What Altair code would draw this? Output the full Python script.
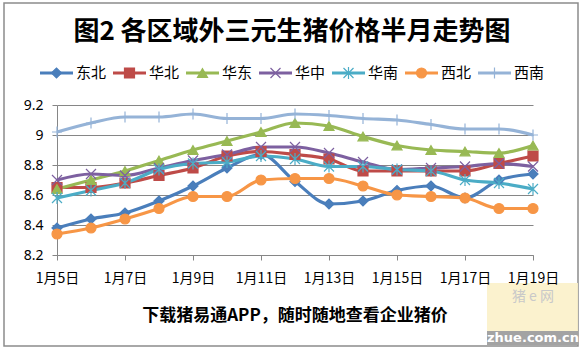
import altair as alt
import pandas as pd

dates = ["1月5日", "1月6日", "1月7日", "1月8日", "1月9日", "1月10日", "1月11日", "1月12日",
         "1月13日", "1月14日", "1月15日", "1月16日", "1月17日", "1月18日", "1月19日"]
label_dates = dates[::2]
regions = ["东北", "华北", "华东", "华中", "华南", "西北", "西南"]
colors = ["#4A7EBB", "#BE4B48", "#98B954", "#7D60A0", "#4BACC6", "#F79646", "#95B3D7"]

dongbei = [8.38, 8.44, 8.48, 8.56, 8.66, 8.78, 8.87, 8.69, 8.54, 8.56, 8.63, 8.66, 8.58, 8.70, 8.74]
huabei = [8.65, 8.65, 8.68, 8.73, 8.78, 8.86, 8.89, 8.87, 8.84, 8.76, 8.76, 8.76, 8.76, 8.81, 8.86]
huadong = [8.64, 8.70, 8.76, 8.83, 8.90, 8.96, 9.02, 9.08, 9.06, 8.99, 8.93, 8.90, 8.89, 8.88, 8.93]
huazhong = [8.70, 8.74, 8.73, 8.78, 8.83, 8.87, 8.92, 8.92, 8.88, 8.82, 8.77, 8.78, 8.79, 8.81, 8.79]
huanan = [8.58, 8.63, 8.68, 8.77, 8.81, 8.82, 8.86, 8.84, 8.79, 8.79, 8.77, 8.76, 8.70, 8.68, 8.64]
xibei = [8.34, 8.38, 8.44, 8.51, 8.59, 8.59, 8.70, 8.71, 8.71, 8.66, 8.60, 8.59, 8.58, 8.51, 8.51]
xinan = [9.02, 9.08, 9.12, 9.12, 9.14, 9.11, 9.11, 9.14, 9.13, 9.11, 9.10, 9.07, 9.04, 9.04, 9.00]

y_ticks = [8.2, 8.4, 8.6, 8.8, 9.0, 9.2]
title_text = "图2  各区域外三元生猪价格半月走势图"
footer_text = "下载猪易通APP，随时随地查看企业猪价"

series = [dongbei, huabei, huadong, huazhong, huanan, xibei, xinan]
rows = []
for r, vals in zip(regions, series):
    for d, v in zip(dates, vals):
        rows.append({"date": d, "region": r, "value": v})
df = pd.DataFrame(rows)

X_PATH = "M-1,-1L1,1M-1,1L1,-1"
STAR_PATH = "M-1,-1L1,1M-1,1L1,-1M0,-1.2L0,1.2"
PLUS_PATH = "M-1,0L1,0M0,-1.1L0,1.1"
shapes = ["diamond", "square", "triangle-up", X_PATH, STAR_PATH, "circle", PLUS_PATH]
sizes = [100, 100, 110, 110, 120, 135, 120]

CJK = "Noto Sans CJK SC"

cscale = alt.Scale(domain=regions, range=colors)
sscale = alt.Scale(domain=regions, range=shapes)
zscale = alt.Scale(domain=regions, range=sizes)

x_enc = alt.X("date:O", sort=dates, scale=alt.Scale(type="point", padding=0),
              axis=alt.Axis(values=label_dates, labelAngle=0, title=None, grid=False,
                            domainColor="#868686", tickColor="#868686", tickSize=5,
                            labelFont=CJK, labelFontSize=14, labelColor="#000000",
                            labelPadding=11, zindex=1))
y_enc = alt.Y("value:Q", scale=alt.Scale(domain=[8.2, 9.2], nice=False, zero=False),
              axis=alt.Axis(values=y_ticks, format=".1~f", title=None,
                            grid=True, gridColor="#868686", gridWidth=1,
                            domainColor="#868686", tickColor="#868686", tickSize=5,
                            labelFont="Noto Sans", labelFontSize=14, labelColor="#000000",
                            labelPadding=9))

base = alt.Chart(df).encode(x=x_enc, y=y_enc)
lines = base.mark_line(interpolate="monotone", strokeWidth=3.2).encode(
    color=alt.Color("region:N", scale=cscale, legend=None),
    detail="region:N")
points = base.mark_point(filled=True, opacity=1, strokeWidth=1.2).encode(
    fill=alt.Fill("region:N", scale=cscale, legend=None),
    stroke=alt.Stroke("region:N", scale=cscale, legend=None),
    shape=alt.Shape("region:N", scale=sscale, legend=None),
    size=alt.Size("region:N", scale=zscale, legend=None))
main = alt.layer(lines, points)

# custom legend
leg = pd.DataFrame({"region": regions, "k": list(range(len(regions)))})
lx = alt.X("k:Q", scale=alt.Scale(domain=[0, 6], range=[-0.5, 437.5]), axis=None)
ly = alt.value(-32)
seg = alt.Chart(leg).mark_point(shape="M-1,0L1,0", size=1089, strokeWidth=3,
                                filled=False, opacity=1).encode(
    x=lx, y=ly, color=alt.Color("region:N", scale=cscale, legend=None))
legmk = alt.Chart(leg).mark_point(filled=True, opacity=1, strokeWidth=1.2).encode(
    x=lx, y=ly,
    fill=alt.Fill("region:N", scale=cscale, legend=None),
    stroke=alt.Stroke("region:N", scale=cscale, legend=None),
    shape=alt.Shape("region:N", scale=sscale, legend=None),
    size=alt.Size("region:N", scale=zscale, legend=None))
legtx = alt.Chart(leg).mark_text(align="left", baseline="middle", dx=19.5,
                                 font=CJK, fontSize=15, color="#000000").encode(
    x=lx, y=ly, text="region:N")
legend = alt.layer(seg, legmk, legtx)

one = pd.DataFrame({"t": [title_text]})
title = alt.Chart(one).mark_text(font=CJK, fontSize=26, fontWeight="bold",
                                 align="center", baseline="middle", color="#000000").encode(
    x=alt.value(235), y=alt.value(-73), text="t:N")
foot = alt.Chart(pd.DataFrame({"t": [footer_text]})).mark_text(
    font=CJK, fontSize=17, fontWeight="bold", align="center", baseline="middle",
    color="#000000").encode(x=alt.value(238), y=alt.value(211), text="t:N")

border = alt.Chart(one).mark_rect(filled=False, stroke="#8c8c8c", strokeWidth=1.5).encode(
    x=alt.value(-53), x2=alt.value(521), y=alt.value(-102), y2=alt.value(241))

wm_box = alt.Chart(one).mark_rect(fill="#FBF1C9", opacity=0.9).encode(
    x=alt.value(430), x2=alt.value(521), y=alt.value(178), y2=alt.value(226))
wm_strip = alt.Chart(one).mark_rect(fill="#A3A3A3").encode(
    x=alt.value(430), x2=alt.value(521), y=alt.value(226), y2=alt.value(240))
wm_txt = alt.Chart(pd.DataFrame({"t": ["zhue.com.cn"]})).mark_text(
    font="DejaVu Sans", fontSize=13, fontWeight="bold", color="#ffffff",
    align="center", baseline="middle").encode(x=alt.value(476), y=alt.value(233), text="t:N")
wm_logo = alt.Chart(pd.DataFrame({"t": ["猪 e 网"]})).mark_text(
    font=CJK, fontSize=14, color="#c9c9c9", align="center", baseline="middle").encode(
    x=alt.value(476), y=alt.value(192), text="t:N")

chart = alt.layer(border, wm_box, wm_strip, wm_txt, wm_logo, main, legend, title, foot).resolve_scale(
    x="independent"
).properties(
    width=476, height=150,
    autosize=alt.AutoSizeParams(type="none"),
    padding={"left": 57, "top": 105, "right": 51, "bottom": 95},
    background="#ffffff"
).configure_view(stroke=None)

chart.save("out.html", embed_options={"renderer": "svg", "actions": False})
